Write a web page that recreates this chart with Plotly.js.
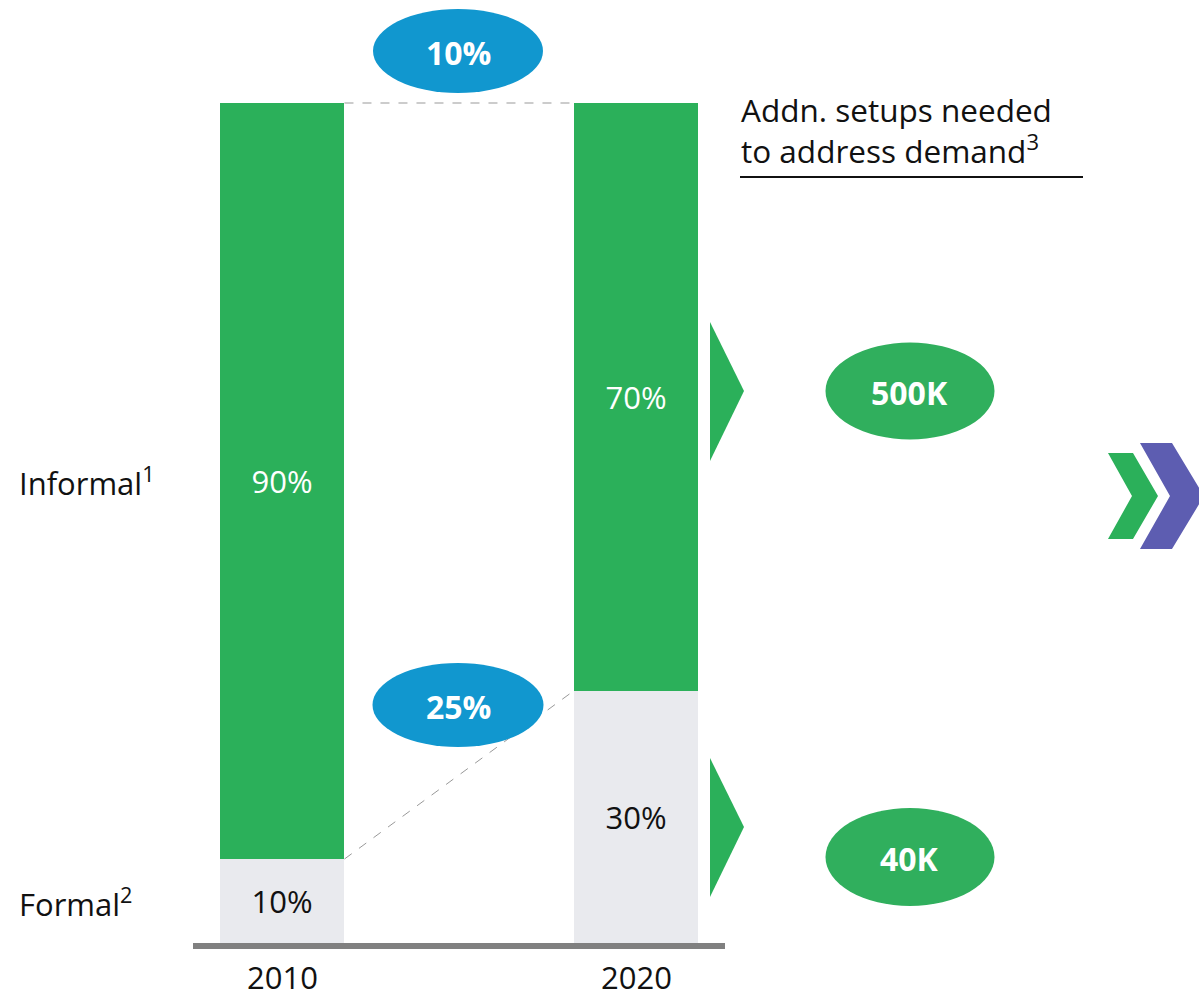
<!DOCTYPE html>
<html>
<head>
<meta charset="utf-8">
<script src="https://cdn.plot.ly/plotly-3.0.1.min.js"></script>
<style>html,body{margin:0;padding:0;background:#fff;}#chart{width:1199px;height:1000px;}</style>
</head>
<body>
<div id="chart"></div>
<script>
// ---- data ----
const years = ['2010', '2020'];
const formalShare = [10, 30];
const informalShare = [90, 70];
const formalLabels = ['10%', '30%'];
const informalLabels = ['90%', '70%'];
const growthLabels = ['10%', '25%'];      // top connector, formal connector
const setupsNeeded = ['500K', '40K'];     // informal, formal
const rowLabels = ['Informal<sup>1</sup>', 'Formal<sup>2</sup>'];
const headerText = 'Addn. setups needed<br>to address demand<sup>3</sup>';

// ---- style ----
const W = 1199, H = 1000;
const GREEN = '#2BB05A', GREY = '#E9EAEE', BLUE = '#1197CF', PURPLE = '#5D5DB1';
const FONT = 'Open Sans, Noto Sans, sans-serif';
const FS = 31;
const BARW = 0.353;

// pixel -> paper helpers (margins are zero)
const px = x => x / W;
const py = y => 1 - y / H;
function pathPx(pts) {
  return pts.map((p, i) => (i ? 'L' : 'M') + px(p[0]).toFixed(5) + ',' + py(p[1]).toFixed(5)).join(' ') + ' Z';
}
function ellipsePx(cx, cy, w, h, color) {
  return {type: 'circle', xref: 'paper', yref: 'paper',
    x0: px(cx - w / 2), x1: px(cx + w / 2), y0: py(cy + h / 2), y1: py(cy - h / 2),
    fillcolor: color, line: {width: 0}, layer: 'above'};
}

const traces = [
  {type: 'bar', x: years, y: formalShare, width: BARW, marker: {color: GREY},
   text: formalLabels, textposition: 'inside', insidetextanchor: 'middle', textangle: 0,
   textfont: {family: FONT, size: FS, color: '#111'}, hoverinfo: 'skip'},
  {type: 'bar', x: years, y: informalShare, width: BARW, marker: {color: GREEN},
   text: informalLabels, textposition: 'inside', insidetextanchor: 'middle', textangle: 0,
   textfont: {family: FONT, size: FS, color: '#fff'}, hoverinfo: 'skip'}
];

const tops = informalShare.map((v, i) => v + formalShare[i]);
const half = BARW / 2;
const shapes = [
  // baseline
  {type: 'line', xref: 'x', yref: 'y', x0: -0.2514, x1: 1.2514, y0: -0.36, y1: -0.36,
   line: {color: '#808080', width: 6}},
  // dashed connectors
  {type: 'line', xref: 'x', yref: 'y', x0: half, x1: 1 - half, y0: tops[0], y1: tops[1],
   line: {color: '#999', width: 1, dash: 'dash'}},
  {type: 'line', xref: 'x', yref: 'y', x0: half, x1: 1 - half, y0: formalShare[0], y1: formalShare[1],
   line: {color: '#999', width: 1, dash: 'dash'}},
  // ellipses
  ellipsePx(458, 51, 170, 84, BLUE),
  ellipsePx(458, 705, 171, 84, BLUE),
  ellipsePx(910, 391, 169, 97, '#30AF5D'),
  ellipsePx(910, 857, 169, 98, '#30AF5D'),
  // triangles
  {type: 'path', xref: 'paper', yref: 'paper', path: pathPx([[710, 322], [744, 391], [710, 461]]),
   fillcolor: GREEN, line: {width: 0}},
  {type: 'path', xref: 'paper', yref: 'paper', path: pathPx([[710, 758], [744, 827], [710, 897]]),
   fillcolor: GREEN, line: {width: 0}},
  // chevrons
  {type: 'path', xref: 'paper', yref: 'paper',
   path: pathPx([[1108, 453], [1133, 453], [1158, 496], [1133, 539], [1108, 539], [1132, 496]]),
   fillcolor: GREEN, line: {width: 0}},
  {type: 'path', xref: 'paper', yref: 'paper',
   path: pathPx([[1140, 443], [1172, 443], [1204, 496], [1172, 549], [1140, 549], [1170, 496]]),
   fillcolor: PURPLE, line: {width: 0}},
  // header underline
  {type: 'line', xref: 'paper', yref: 'paper', x0: px(740), x1: px(1083), y0: py(177), y1: py(177),
   line: {color: '#111', width: 2}}
];

const annotations = [];
function ann(text, x, y, opts) {
  annotations.push(Object.assign({text: text, xref: 'paper', yref: 'paper', x: px(x), y: py(y),
    showarrow: false, xanchor: 'center', yanchor: 'middle',
    font: {family: FONT, size: FS, color: '#111'}}, opts || {}));
}
// year labels (category axis: use category index)
years.forEach((yr, i) => annotations.push({text: yr, xref: 'x', yref: 'paper', x: i, y: py(977),
  showarrow: false, xanchor: 'center', yanchor: 'middle', font: {family: FONT, size: 31, color: '#111'}}));
// row labels
ann(rowLabels[0], 17, 481, {xanchor: 'left'});
ann(rowLabels[1], 17, 902, {xanchor: 'left'});
// header
ann(headerText, 739, 130, {xanchor: 'left', align: 'left', font: {family: FONT, size: 31.5, color: '#111'}});
// ellipse labels
const boldW = {family: FONT, size: 32, color: '#fff', weight: 'bold'};
ann(growthLabels[0], 458, 52, {font: boldW});
ann(growthLabels[1], 458, 706, {font: boldW});
ann(setupsNeeded[0], 910, 392, {font: boldW});
ann(setupsNeeded[1], 910, 858, {font: boldW});

const layout = {
  width: W, height: H, margin: {l: 0, r: 0, t: 0, b: 0, pad: 0},
  paper_bgcolor: '#fff', plot_bgcolor: '#fff', showlegend: false, barmode: 'stack',
  xaxis: {type: 'category', range: [-282 / 354, (W - 282) / 354], visible: false, fixedrange: true},
  yaxis: {range: [-(H - 943) / 8.4, 100 + 103 / 8.4], visible: false, fixedrange: true},
  shapes: shapes, annotations: annotations, hovermode: false
};

Plotly.newPlot('chart', traces, layout, {displayModeBar: false, staticPlot: true});
</script>
</body>
</html>
